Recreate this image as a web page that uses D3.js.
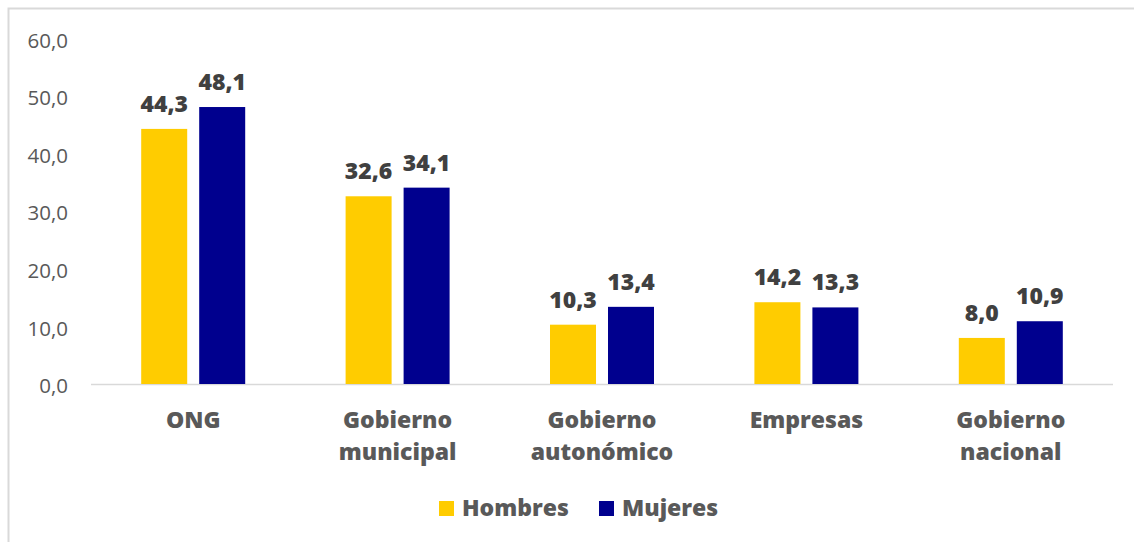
<!DOCTYPE html>
<meta charset="utf-8">
<style>
  body { margin: 0; background: #fff; }
  svg { font-family: "Open Sans", sans-serif; }
</style>
<script src="https://d3js.org/d3.v7.min.js"></script>
<div id="chart"></div>
<script>
// data
var categories = [["ONG"], ["Gobierno", "municipal"], ["Gobierno", "autonómico"], ["Empresas"], ["Gobierno", "nacional"]];
var hombres = [44.3, 32.6, 10.3, 14.2, 8.0];
var mujeres = [48.1, 34.1, 13.4, 13.3, 10.9];
var seriesNames = ["Hombres", "Mujeres"];
var yTicks = [0, 10, 20, 30, 40, 50, 60];

var colors = ["#FFCC00", "#00008E"];
var W = 1134, H = 542;

var svg = d3.select("#chart").append("svg")
  .attr("width", W).attr("height", H);

// outer frame
svg.append("rect")
  .attr("x", 8.5).attr("y", 8.5)
  .attr("width", W + 20).attr("height", H + 20)
  .attr("fill", "none").attr("stroke", "#d9d9d9").attr("stroke-width", 2);

var x = d3.scaleBand().domain(d3.range(categories.length)).range([91, 1113]);
var y = d3.scaleLinear().domain([0, 60]).range([384, 38.5]);

var fmt = function(v) { return v.toFixed(1).replace(".", ","); };

// y tick labels
svg.selectAll(".ytick").data(yTicks).enter()
  .append("text")
  .attr("x", 68).attr("y", function(d) { return y(d) + 2; })
  .attr("dy", "0.35em")
  .attr("text-anchor", "end")
  .attr("font-size", 20.5)
  .attr("fill", "#595959")
  .text(fmt);

// baseline
svg.append("line")
  .attr("x1", 91).attr("x2", 1113)
  .attr("y1", y(0) + 0.5).attr("y2", y(0) + 0.5)
  .attr("stroke", "#d9d9d9").attr("stroke-width", 1.5);

var barW = 46, gap = 12;
var series = [hombres, mujeres];

series.forEach(function(vals, s) {
  var off = s === 0 ? -(gap / 2 + barW) : gap / 2;
  var g = svg.append("g");
  g.selectAll("rect").data(vals).enter()
    .append("rect")
    .attr("x", function(d, i) { return x(i) + x.bandwidth() / 2 + off; })
    .attr("y", function(d) { return y(d); })
    .attr("width", barW)
    .attr("height", function(d) { return y(0) - y(d); })
    .attr("fill", colors[s]);
  g.selectAll("text").data(vals).enter()
    .append("text")
    .attr("x", function(d, i) { return x(i) + x.bandwidth() / 2 + off + barW / 2; })
    .attr("y", function(d) { return y(d) - 17; })
    .attr("text-anchor", "middle")
    .attr("font-size", 23)
    .attr("font-weight", 800)
    .attr("fill", "#404040")
    .text(fmt);
});

// category labels
var cat = svg.selectAll(".cat").data(categories).enter()
  .append("text")
  .attr("text-anchor", "middle")
  .attr("font-size", 23)
  .attr("font-weight", 800)
  .attr("fill", "#595959");
cat.selectAll("tspan").data(function(d, i) { return d.map(function(t) { return {t: t, i: i}; }); }).enter()
  .append("tspan")
  .attr("x", function(d) { return x(d.i) + x.bandwidth() / 2; })
  .attr("y", function(d, j) { return 428 + j * 32; })
  .text(function(d) { return d.t; });

// legend
var legX = [439, 599];
seriesNames.forEach(function(n, s) {
  svg.append("rect")
    .attr("x", legX[s]).attr("y", 501)
    .attr("width", 15).attr("height", 15)
    .attr("fill", colors[s]);
  svg.append("text")
    .attr("x", legX[s] + 23).attr("y", 516)
    .attr("font-size", 23)
    .attr("font-weight", 800)
    .attr("fill", "#595959")
    .text(n);
});
</script>
